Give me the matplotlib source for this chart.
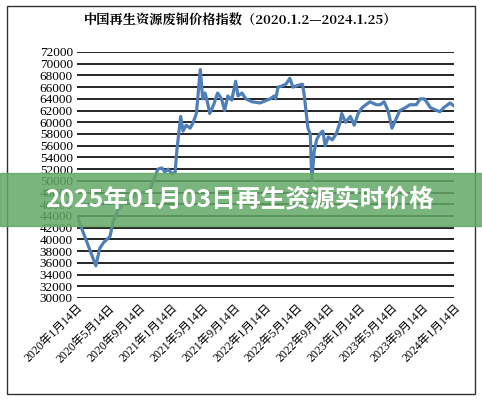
import numpy as np
import matplotlib.pyplot as plt
from matplotlib.patches import Rectangle

# x positions in months since 2020-01-14
months = [0, 2.4, 2.9, 3.4, 4.2, 4.6, 5.2, 6.1, 7.4, 9.3, 10.3, 10.8, 11.2, 11.6, 12.1, 12.5,
          12.7, 13.2, 13.5, 13.9, 14.4, 14.8, 15.2, 15.7, 16.0, 16.3, 16.6, 16.9, 17.4, 17.9,
          18.4, 18.8, 19.2, 19.7, 20.2, 20.5, 21.0, 21.5, 22.3, 23.3, 24.6, 25.1, 25.3, 25.6,
          26.1, 26.6, 27.1, 27.5, 28.1, 28.7, 28.9, 29.4, 29.7, 29.9, 30.2, 30.5, 30.9, 31.3,
          31.6, 32.0, 32.5, 33.0, 33.5, 33.7, 34.2, 34.8, 35.3, 35.8, 36.3, 36.8, 37.3, 38.1,
          38.6, 39.1, 39.6, 40.1, 40.6, 41.1, 41.8, 42.4, 43.2, 43.7, 44.2, 44.5, 45.0, 46.2,
          46.7, 47.5, 48.0]
prices = [44000, 35500, 38500, 39500, 40500, 43000, 45000, 46500, 47500, 48500, 52000, 52200,
          51500, 52000, 51200, 51500, 55000, 61000, 58500, 59500, 59000, 60000, 61500, 69000,
          64000, 65000, 63500, 61500, 63000, 65000, 64000, 62000, 64500, 63800, 67000, 64500,
          65000, 64000, 63500, 63300, 64000, 64500, 64000, 66000, 66200, 66500, 67500, 66000,
          66300, 66500, 65000, 59000, 58000, 50000, 55000, 57000, 58000, 58500, 56000, 57500,
          57000, 58000, 60000, 61500, 60000, 61000, 59500, 61500, 62500, 63000, 63500, 63000,
          63000, 63500, 62000, 59000, 60500, 62000, 62500, 63000, 63000, 64000, 64000, 63500,
          62500, 61800, 62500, 63300, 62800]
tick_labels = ['2020年1月14日', '2020年5月14日', '2020年9月14日', '2021年1月14日',
               '2021年5月14日', '2021年9月14日', '2022年1月14日', '2022年5月14日',
               '2022年9月14日', '2023年1月14日', '2023年5月14日', '2023年9月14日',
               '2024年1月14日']

fonts = ['Liberation Serif', 'Noto Sans CJK SC']
fig = plt.figure(figsize=(4.82, 4.0), dpi=100)
fig.patches.append(Rectangle((7 / 482, 6 / 400), 468 / 482, 388 / 400, transform=fig.transFigure,
                             fill=False, edgecolor='#333333', lw=1))
ax = fig.add_axes([77 / 482, 1 - 298 / 400, 377 / 482, 246 / 400])
ax.plot(months, prices, color='#4f7fb8', lw=2.3)
ax.set_xlim(0, 48)
ax.set_ylim(30000, 72000)
ax.set_yticks(np.arange(30000, 72001, 2000))
ax.set_yticklabels([str(v) for v in range(30000, 72001, 2000)], fontsize=9.5, family=fonts)
ax.set_xticks(np.arange(0, 49, 4))
ax.set_xticklabels(tick_labels, rotation=45, ha='right', rotation_mode='anchor',
                   fontsize=8.5, family=fonts)
ax.grid(axis='y', color='black', lw=1.2)
ax.set_axisbelow(True)
for s in ax.spines.values():
    s.set_visible(False)
ax.tick_params(length=0, pad=3)
fig.text(0.5, 1 - 21 / 400, '中国再生资源废铜价格指数（2020.1.2—2024.1.25）', ha='center', va='center',
         fontsize=9.5, weight='bold', family=['Noto Serif CJK SC', 'Noto Sans CJK SC'])

fig.patches.append(Rectangle((0, 1 - 226 / 400), 1, 53 / 400, transform=fig.transFigure,
                             color='#62a865', alpha=0.85, zorder=5))
fig.text(0.497, 1 - 200 / 400, '2025年01月03日再生资源实时价格', ha='center', va='center',
         fontsize=17.8, weight='bold', color='white', family='Noto Sans CJK SC', zorder=6)
fig.savefig('out.png', dpi=100)
